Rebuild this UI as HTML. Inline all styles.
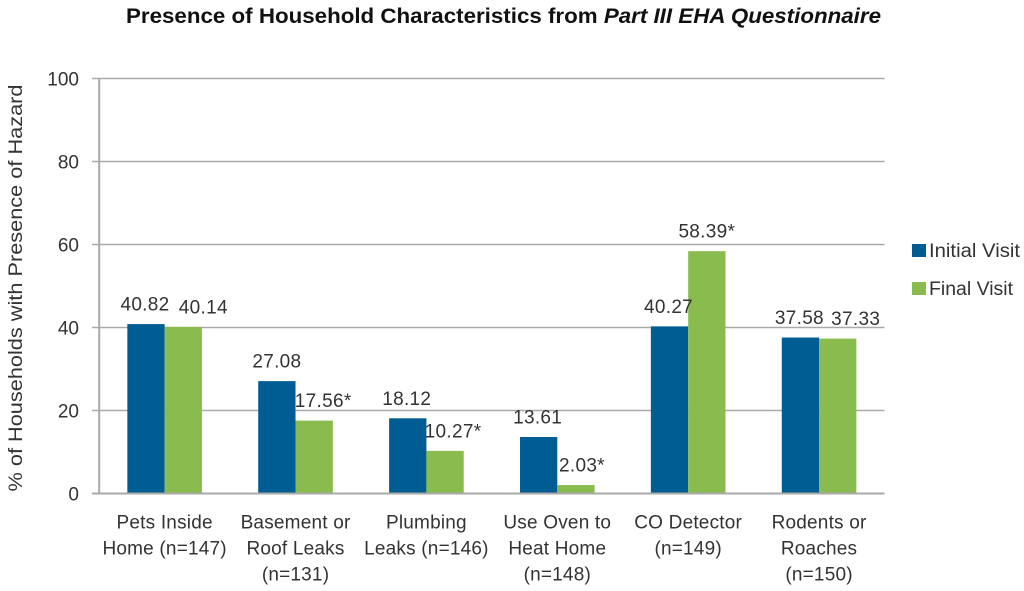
<!DOCTYPE html>
<html lang="en">
<head>
<meta charset="utf-8">
<title>Presence of Household Characteristics</title>
<style>
html,body{margin:0;padding:0;background:#fff;}
svg{display:block;font-family:"Liberation Sans",sans-serif;}
text{fill:#333;}
</style>
</head>
<body>
<svg id="chart" xmlns="http://www.w3.org/2000/svg" width="1024" height="591" viewBox="0 0 1024 591" style="filter:blur(0.35px)">
  <text x="126" y="23" font-size="21" font-weight="bold" textLength="755" lengthAdjust="spacingAndGlyphs" style="fill:#111">Presence of Household Characteristics from <tspan font-style="italic">Part III EHA Questionnaire</tspan></text>
  <text transform="translate(22,288) rotate(-90)" text-anchor="middle" font-size="19" textLength="407" lengthAdjust="spacingAndGlyphs">% of Households with Presence of Hazard</text>
  <g id="grid"></g>
  <g id="bars"></g>
  <g id="axes"></g>
  <g id="labels"></g>
  <g id="cats"></g>
  <g>
    <g>
      <rect x="912" y="244" width="14" height="13" fill="#005d94"/>
      <text x="929" y="257" font-size="19" textLength="91" lengthAdjust="spacingAndGlyphs">Initial Visit</text>
    </g>
    <g>
      <rect x="912" y="282" width="14" height="13" fill="#8abb4e"/>
      <text x="929" y="295" font-size="19" textLength="84" lengthAdjust="spacingAndGlyphs">Final Visit</text>
    </g>
  </g>
</svg>
<script>
const categories = [
  ["Pets Inside", "Home (n=147)"],
  ["Basement or", "Roof Leaks", "(n=131)"],
  ["Plumbing", "Leaks (n=146)"],
  ["Use Oven to", "Heat Home", "(n=148)"],
  ["CO Detector", "(n=149)"],
  ["Rodents or", "Roaches", "(n=150)"]
];
const initialVisit = [40.82, 27.08, 18.12, 13.61, 40.27, 37.58];
const finalVisit = [40.14, 17.56, 10.27, 2.03, 58.39, 37.33];
const initialLabels = ["40.82", "27.08", "18.12", "13.61", "40.27", "37.58"];
const finalLabels = ["40.14", "17.56*", "10.27*", "2.03*", "58.39*", "37.33"];
const yTicks = [0, 20, 40, 60, 80, 100];

const NS = "http://www.w3.org/2000/svg";
const plot = { left: 99.2, right: 884.5, top: 78.5, bottom: 493.5, yMax: 100, barW: 37.3 };
const initialNudgeX = [-1, 0, -1, -1, -1, -1];
const finalNudgeX = [20, 9, 8, 6, 0, 18];

function yScale(v) {
  return plot.bottom - (v / plot.yMax) * (plot.bottom - plot.top);
}
function groupCenter(i) {
  return plot.left + (plot.right - plot.left) / categories.length * (i + 0.5);
}
function make(tag, attrs, parent) {
  const el = document.createElementNS(NS, tag);
  for (const k in attrs) el.setAttribute(k, attrs[k]);
  parent.appendChild(el);
  return el;
}

const gridG = document.getElementById("grid");
const axesG = document.getElementById("axes");
const barsG = document.getElementById("bars");
const labelsG = document.getElementById("labels");
const catsG = document.getElementById("cats");

yTicks.forEach(function (t) {
  const y = yScale(t);
  if (t !== 0) {
    const g = make("line", { x1: plot.left, x2: plot.right, y1: y, y2: y, stroke: "#a9a9a9", "stroke-width": 1.5 }, gridG);
    
    
  }
  const tick = make("line", { x1: 92, x2: plot.left, y1: y, y2: y, stroke: "#a9a9a9", "stroke-width": 1.5 }, axesG);
  
  
  const lab = make("text", { x: 79, y: y + 7, "text-anchor": "end", "font-size": 19 }, axesG);
  lab.textContent = t;
  
  
});

const yAxis = make("line", { x1: plot.left, x2: plot.left, y1: plot.top, y2: plot.bottom, stroke: "#a9a9a9", "stroke-width": 2 }, axesG);


const xAxis = make("line", { x1: 92, x2: plot.right, y1: plot.bottom, y2: plot.bottom, stroke: "#a9a9a9", "stroke-width": 2 }, axesG);



function drawSeries(values, texts, nudges, color, side) {
  values.forEach(function (v, i) {
    const c = groupCenter(i);
    const x = side < 0 ? c - plot.barW : c;
    const y = yScale(v);
    const bar = make("rect", { x: x, y: y, width: plot.barW, height: plot.bottom - y, fill: color }, barsG);
    
    
    const lab = make("text", { x: x + plot.barW / 2 + nudges[i], y: y - 13.5, "text-anchor": "middle", "font-size": 19, "letter-spacing": 0.3 }, labelsG);
    lab.textContent = texts[i];
    
    
  });
}
drawSeries(initialVisit, initialLabels, initialNudgeX, "#005d94", -1);
drawSeries(finalVisit, finalLabels, finalNudgeX, "#8abb4e", 1);

categories.forEach(function (lines, i) {
  lines.forEach(function (line, j) {
    const t = make("text", { x: groupCenter(i), y: 528.5 + j * 26, "text-anchor": "middle", "font-size": 19, "letter-spacing": 0.2 }, catsG);
    t.textContent = line;
    
    
  });
});
</script>
</body>
</html>
